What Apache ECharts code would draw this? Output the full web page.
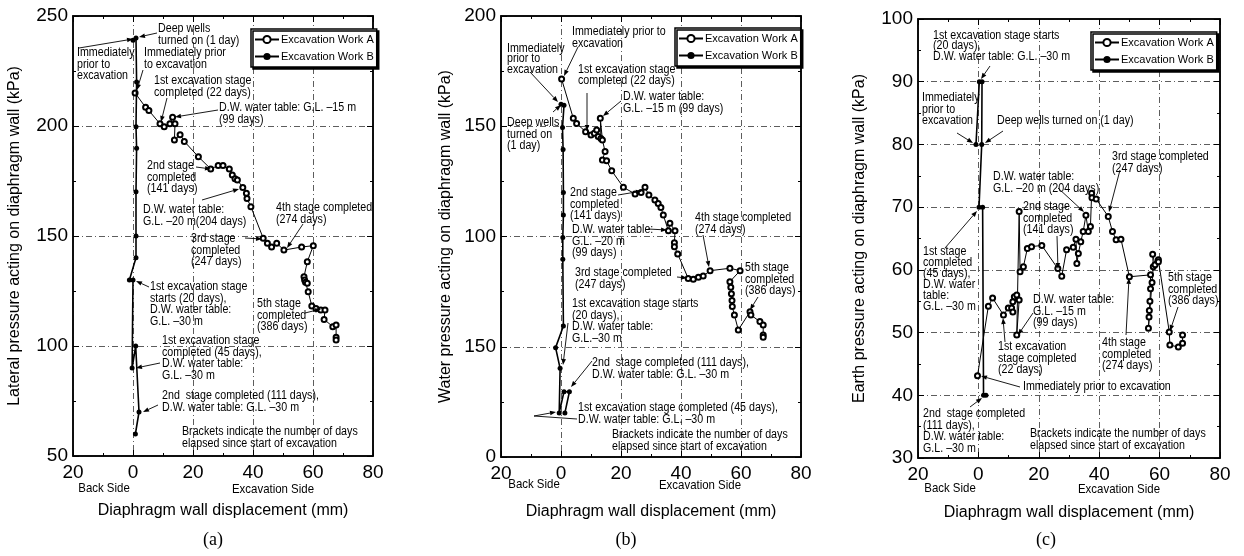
<!DOCTYPE html>
<html>
<head>
<meta charset="utf-8">
<script src="https://cdn.jsdelivr.net/npm/echarts@6/dist/echarts.min.js"></script>
<style>
  html, body { margin: 0; background: #fff; }
  #chart { width: 1244px; height: 556px; }
</style>
</head>
<body>
<div id="chart"></div>
<script>
// tick labels (back side shown as positive 20)
const xTickLabels = ['20', '0', '20', '40', '60', '80'];
const lateralTicks = ['50', '100', '150', '200', '250'];
const waterTicks = ['0', '150', '100', '150', '200'];
const earthTicks = ['30', '40', '50', '60', '70', '80', '90', '100'];

// (a) lateral pressure [displacement mm, kPa]
const lateralA = [[0.7,215],[4.2,208.5],[5.3,207],[9,201],[10.4,199.7],[12.3,201],[13.2,204],[14,201],[13.8,193.6],
  [15.7,196],[17.1,193],[21.8,186],[25.9,180.5],[28.4,182],[30,182],[32.1,180.5],[33.1,177.7],[34,176],[34.8,175.5],
  [36.6,172],[37.8,169.4],[38,167],[39.3,163.3],[43.4,149],[44.8,146.7],[46.2,145],[47.9,146.7],[50.3,143.6],[56.2,145],
  [60.1,145.6],[58.1,138.3],[57,131.5],[57.2,130],[57.5,129],[58.1,128.5],[58.4,124.7],[59.6,118.2],[61,117.1],
  [62.6,116.4],[64,116.4],[63.7,112.1],[66.6,108.8],[67.7,109.5],[67.7,104],[67.7,102.7]];
const lateralB = [[0,239],[1,240],[1.2,220],[1,199.7],[1.2,189.9],[1,170.1],[1,150],[1,140.1],[-1.2,130],[0,130],
  [-0.3,90],[0.9,100],[2,70],[0.8,60]];

// (b) water pressure
const waterA = [[0.2,171.4],[4.1,153.6],[5.2,151.3],[8.2,147.5],[10,146],[11.1,146.8],[11.9,148.3],[12.4,145.3],
  [13.3,144.5],[13.1,153.6],[13.8,143.8],[14.7,138.5],[13.8,134.7],[15.2,134.4],[16.9,129.8],[20.8,122.3],[24.7,119.3],
  [26.7,119.9],[28,122.3],[29.3,118.8],[31.3,116.6],[32.4,115],[33.3,113.2],[34.1,109.7],[35.8,102.6],[36.3,106],
  [38,102.6],[37.8,97.2],[37.8,95.4],[38.9,92.1],[42.4,81],[44.1,80.6],[45.8,81.5],[47.4,82.1],[49.7,84.5],[56.3,85.6],
  [59.7,84.5],[56.3,79.5],[56.6,77],[56.8,74],[57,71],[57.1,68.2],[57.8,64.4],[59.1,57.6],[63,65.9],[63.3,64.4],
  [66.3,61.4],[67.4,59.9],[67.4,55.3],[67.4,54.3]];
const waterB = [[0,160],[1,159.5],[0.5,149.4],[0.7,139.5],[0.8,119.9],[0.8,109.8],[0.6,99.6],[0.6,89.7],[0.8,59.4],
  [-1.8,49.6],[-0.3,40.2],[-0.6,20],[1,29.6],[2.8,29.6],[1.3,20]];

// (c) earth pressure
const earthA = [[-0.3,43.1],[3.3,54.2],[4.7,55.5],[8.3,52.8],[9.9,53.9],[11,53.9],[11.4,53.3],[11.4,54.9],[11.9,55.7],
  [12.7,56],[13.5,55.2],[12.7,49.6],[13.5,69.3],[13.8,59.7],[14.9,60.5],[16.2,63.4],[17.6,63.7],[21,63.9],[26.3,60.2],
  [27.6,59],[29.2,63.2],[31.4,63.6],[32.3,64.9],[32.6,61],[33.1,62.6],[33.9,64.5],[34.7,66.1],[35.6,68.7],[36.4,66.1],
  [37.1,66.9],[37.5,72.2],[37.6,71.5],[39,71.3],[43,68.5],[44.4,66.1],[45.6,64.8],[47.2,64.9],[50,58.9],[57,59.2],
  [57,57],[56.8,55],[56.6,53.5],[56.5,52.5],[56.3,50.7],[57.5,58],[57.9,60.5],[57.7,62.5],[58.5,60.8],[59.6,61.6],
  [59.6,61.3],[63.2,50.1],[63.4,48],[66.2,47.7],[67.6,48.3],[67.6,49.6]];
const earthB = [[-0.8,80],[0.3,90],[1.2,90],[1.1,80],[0.2,70],[1.4,70],[1.7,40],[2.5,40]];

const SANS = '"Liberation Sans", Arial, sans-serif';
const NOTE_SCALE = 0.89; // the scan uses a condensed face

const panels = [
  { grid: { left: 73, top: 16, width: 300, height: 440 }, yMin: 50, yMax: 250, yStep: 50, yLabels: lateralTicks,
    yName: 'Lateral pressure acting on diaphragm wall (kPa)', nameGap: 50, a: lateralA, b: lateralB },
  { grid: { left: 501, top: 16, width: 300, height: 441 }, yMin: 0, yMax: 200, yStep: 50, yLabels: waterTicks,
    yName: 'Water pressure acting on diaphragm wall (kPa)', nameGap: 47, a: waterA, b: waterB },
  { grid: { left: 918, top: 19, width: 302, height: 439 }, yMin: 30, yMax: 100, yStep: 10, yLabels: earthTicks,
    yName: 'Earth pressure acting on diaphragm wall (kPa)', nameGap: 50, a: earthA, b: earthB }
];

// annotation texts [x, y(top), text, lineHeight]
const notes = [
  [158, 23, 'Deep wells\nturned on (1 day)'],
  [77, 47, 'Immediately\nprior to\nexcavation'],
  [144, 47, 'Immediately prior\nto excavation'],
  [154, 75, '1st excavation stage\ncompleted (22 days)'],
  [219, 102, 'D.W. water table: G.L. \u201315 m\n(99 days)'],
  [147, 160, '2nd stage\ncompleted\n(141 days)'],
  [143, 204, 'D.W. water table:\nG.L. \u201320 m(204 days)'],
  [191, 233, '3rd stage\ncompleted\n(247 days)'],
  [276, 202, '4th stage completed\n(274 days)'],
  [150, 281, '1st excavation stage\nstarts (20 days),\nD.W. water table:\nG.L. \u201330 m'],
  [257, 298, '5th stage\ncompleted\n(386 days)'],
  [162, 335, '1st excavation stage\ncompleted (45 days),\nD.W. water table:\nG.L. \u201330 m'],
  [162, 390, '2nd  stage completed (111 days),\nD.W. water table: G.L. \u201330 m'],
  [182, 426, 'Brackets indicate the number of days\nelapsed since start of excavation'],

  [572, 26, 'Immediately prior to\nexcavation'],
  [507, 43, 'Immediately\nprior to\nexcavation', 10.5],
  [578, 64, '1st excavation stage\ncompleted (22 days)', 11],
  [623, 91, 'D.W. water table:\nG.L. \u201315 m (99 days)'],
  [507, 117, 'Deep wells\nturned on\n(1 day)'],
  [570, 187, '2nd stage\ncompleted\n(141 days)'],
  [572, 224, 'D.W. water table:\nG.L. \u201320 m\n(99 days)'],
  [695, 212, '4th stage completed\n(274 days)'],
  [575, 267, '3rd stage completed\n(247 days)'],
  [745, 262, '5th stage\ncompleted\n(386 days)'],
  [572, 298, '1st excavation stage starts\n(20 days),\nD.W. water table:\nG.L.\u201330 m'],
  [592, 357, '2nd  stage completed (111 days),\nD.W. water table: G.L. \u201330 m'],
  [578, 402, '1st excavation stage completed (45 days),\nD.W. water table: G.L. \u201330 m'],
  [612, 429, 'Brackets indicate the number of days\nelapsed since start of excavation'],

  [933, 30, '1st excavation stage starts\n(20 days),\nD.W. water table: G.L. \u201330 m', 10.5],
  [922, 92, 'Immediately\nprior to\nexcavation'],
  [997, 115, 'Deep wells turned on (1 day)'],
  [1112, 151, '3rd stage completed\n(247 days)'],
  [993, 171, 'D.W. water table:\nG.L. \u201320 m (204 days)'],
  [1023, 201, '2nd stage\ncompleted\n(141 days)'],
  [923, 246, '1st stage\ncompleted\n(45 days),\nD.W. water\ntable:\nG.L. \u201330 m', 11],
  [1033, 294, 'D.W. water table:\nG.L. \u201315 m\n(99 days)'],
  [998, 341, '1st excavation\nstage completed\n(22 days)'],
  [1102, 337, '4th stage\ncompleted\n(274 days)'],
  [1168, 272, '5th stage\ncompleted\n(386 days)'],
  [1023, 381, 'Immediately prior to excavation'],
  [923, 408, '2nd  stage completed\n(111 days),\nD.W. water table:\nG.L. \u201330 m'],
  [1030, 428, 'Brackets indicate the number of days\nelapsed since start of excavation']
];

// arrows [x1, y1, x2(head), y2(head)]
const arrows = [
  [157,33,139,37],[79,48,133,39],[143,70,137,90],[167,98,161,122],[218,110,175,117],[196,167,211,169],
  [202,200,239,189],[245,238,262,239],[303,224,287,248],[149,287,136,281],[305,313,321,309],[160,363,136,368],
  [158,405,143,412],
  [578,47,564,76],[530,72,558,102],[587,93,587,131],[621,101,603,116],[553,112,561,105],[618,195,642,191],
  [648,229,667,230],[703,235,709,267],[677,277,687,278],[758,297,750,310],[568,323,563,365],[592,361,571,387],
  [534,416,556,412],
  [990,66,981,79],[957,133,973,143],[1003,131,985,143],[1120,170,1109,212],[1058,188,1084,212],[1057,236,1058,269],
  [945,248,977,211],[1033,313,1018,335],[1005,342,1003,318],[1126,335,1129,278],[1178,307,1170,331],
  [1020,387,981,376],[970,407,982,398]
];
const leaders = [[577,419,534,416]];

const sideLabels = [
  [104, 488, 'Back Side'], [273, 489, 'Excavation Side'],
  [534, 484, 'Back Side'], [700, 485, 'Excavation Side'],
  [950, 488, 'Back Side'], [1119, 489, 'Excavation Side']
];
const panelLabels = [[213, 540, '(a)'], [626, 540, '(b)'], [1046, 540, '(c)']];

const legendPos = [{ left: 251, top: 29 }, { left: 675, top: 28 }, { left: 1091, top: 32 }];

const gridLine = { show: true, lineStyle: { color: '#333', width: 0.8, type: [6, 3, 1, 3] } };
const tickStyle = { show: true, inside: true, length: 6, lineStyle: { color: '#000', width: 1 } };
const minorStyle = { show: true, splitNumber: 2, length: 3, lineStyle: { color: '#000', width: 1 } };
const axisLine = { show: true, onZero: false, lineStyle: { color: '#000', width: 1.5 } };

const xAxis = [], yAxis = [], series = [], grid = [], legend = [];
panels.forEach((p, i) => {
  grid.push(Object.assign({ show: true, borderColor: '#000', borderWidth: 1.5, backgroundColor: '#fff' }, p.grid));
  xAxis.push({
    type: 'value', gridIndex: i, min: -20, max: 80, interval: 20, position: 'bottom',
    name: 'Diaphragm wall displacement (mm)', nameLocation: 'middle', nameGap: 47,
    nameTextStyle: { fontFamily: SANS, fontSize: 16, color: '#000', verticalAlign: 'top' },
    axisLine, axisTick: tickStyle, minorTick: minorStyle, splitLine: gridLine,
    axisLabel: { margin: 7, fontFamily: SANS, fontSize: 19, color: '#000',
      formatter: v => xTickLabels[Math.round((v + 20) / 20)] }
  });
  xAxis.push({
    type: 'value', gridIndex: i, min: -20, max: 80, interval: 20, position: 'top',
    axisLine, axisTick: tickStyle, minorTick: minorStyle, splitLine: { show: false }, axisLabel: { show: false }
  });
  yAxis.push({
    type: 'value', gridIndex: i, min: p.yMin, max: p.yMax, interval: p.yStep, position: 'left',
    name: p.yName, nameLocation: 'middle', nameGap: p.nameGap, nameRotate: 90,
    nameTextStyle: { fontFamily: SANS, fontSize: 16, color: '#000' },
    axisLine, axisTick: tickStyle, minorTick: minorStyle, splitLine: gridLine,
    axisLabel: { margin: 5, fontFamily: SANS, fontSize: 19, color: '#000',
      formatter: v => p.yLabels[Math.round((v - p.yMin) / p.yStep)] }
  });
  yAxis.push({
    type: 'value', gridIndex: i, min: p.yMin, max: p.yMax, interval: p.yStep, position: 'right',
    axisLine, axisTick: tickStyle, minorTick: minorStyle, splitLine: { show: false }, axisLabel: { show: false }
  });
  series.push({
    name: 'Excavation Work A', type: 'line', xAxisIndex: 2 * i, yAxisIndex: 2 * i, data: p.a,
    symbol: 'emptyCircle', symbolSize: 5, lineStyle: { color: '#000', width: 1 },
    itemStyle: { color: '#000', borderColor: '#000', borderWidth: 1 }, z: 3
  });
  series.push({
    name: 'Excavation Work B', type: 'line', xAxisIndex: 2 * i, yAxisIndex: 2 * i, data: p.b,
    symbol: 'circle', symbolSize: 5, lineStyle: { color: '#000', width: 1.6 },
    itemStyle: { color: '#000' }, z: 4
  });
  legend.push(Object.assign({
    orient: 'vertical', data: ['Excavation Work A', 'Excavation Work B'],
    itemWidth: 24, itemHeight: 9, itemGap: 6, padding: [5, 3, 5, 3],
    backgroundColor: '#fff', borderColor: '#000', borderWidth: 1.5,
    shadowColor: '#000', shadowOffsetX: 2, shadowOffsetY: 2, shadowBlur: 0,
    textStyle: { fontFamily: SANS, fontSize: 11, color: '#000', padding: [0, 0, 0, -3] }
  }, legendPos[i]));
});

const graphic = [];
notes.forEach(n => {
  graphic.push({ type: 'text', x: n[0], y: n[1], z: 10, scaleX: NOTE_SCALE,
    style: { text: n[2], font: '12px ' + SANS, fill: '#000', lineHeight: n[3] || 11.5, verticalAlign: 'top' } });
});
function arrow(x1, y1, x2, y2) {
  const a = Math.atan2(y2 - y1, x2 - x1), L = 6, W = 2.3;
  const bx = x2 - L * Math.cos(a), by = y2 - L * Math.sin(a);
  graphic.push({ type: 'line', z: 10, shape: { x1, y1, x2: bx, y2: by }, style: { stroke: '#000', lineWidth: 0.9 } });
  graphic.push({ type: 'polygon', z: 10, shape: { points: [[x2, y2],
    [bx + W * Math.sin(a), by - W * Math.cos(a)], [bx - W * Math.sin(a), by + W * Math.cos(a)]] },
    style: { fill: '#000' } });
}
arrows.forEach(a => arrow(a[0], a[1], a[2], a[3]));
leaders.forEach(l => graphic.push({ type: 'line', z: 10, shape: { x1: l[0], y1: l[1], x2: l[2], y2: l[3] },
  style: { stroke: '#000', lineWidth: 0.9 } }));
sideLabels.forEach(s => graphic.push({ type: 'text', x: s[0], y: s[1], z: 10, scaleX: 0.88,
  style: { text: s[2], font: '13px ' + SANS, fill: '#000', align: 'center', verticalAlign: 'middle' } }));
panelLabels.forEach(s => graphic.push({ type: 'text', x: s[0], y: s[1], z: 10,
  style: { text: s[2], font: '18px "Liberation Serif", serif', fill: '#000', align: 'center', verticalAlign: 'middle' } }));

const chart = echarts.init(document.getElementById('chart'));
chart.setOption({
  animation: false,
  backgroundColor: '#fff',
  grid, xAxis, yAxis, series, legend, graphic
});
window.addEventListener('resize', () => chart.resize());
</script>
</body>
</html>
